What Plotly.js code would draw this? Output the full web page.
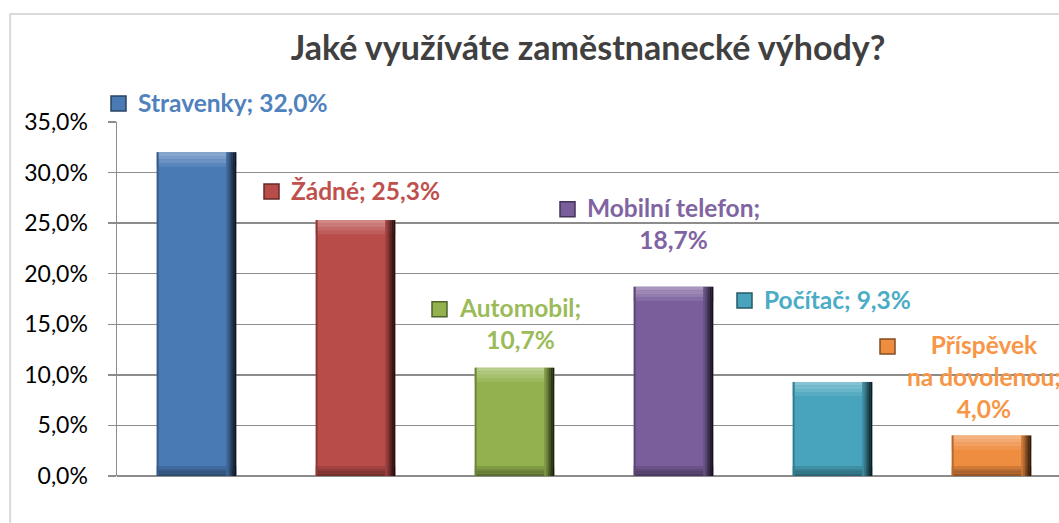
<!DOCTYPE html>
<html>
<head>
<meta charset="utf-8">
<script src="https://cdn.plot.ly/plotly-3.0.1.min.js"></script>
<style>
html,body{margin:0;padding:0;overflow:hidden;background:#fff;}
#chart{width:1075px;height:523px;}
</style>
</head>
<body>
<div id="chart"></div>
<script>
const categories = ['Stravenky', 'Žádné', 'Automobil', 'Mobilní telefon', 'Počítač', 'Příspěvek na dovolenou'];
const values = [32.0, 25.3, 10.7, 18.7, 9.3, 4.0];
const labelTexts = ['Stravenky; 32,0%', 'Žádné; 25,3%', 'Automobil;<br>10,7%', 'Mobilní telefon;<br>18,7%', 'Počítač; 9,3%', 'Příspěvek<br>na dovolenou;<br>4,0%'];
const yTicks = [0, 5, 10, 15, 20, 25, 30, 35];
const yTickText = yTicks.map(v => v.toFixed(1).replace('.', ',') + '%');

// styles
const barColors   = ['#4a7ab4', '#b84c49', '#93b24f', '#7a5e9b', '#47a4bc', '#ee8c40'];
const textColors  = ['#4f81bd', '#c0504d', '#9bbb59', '#8064a2', '#4bacc6', '#f79646'];

const labelXShift = [36.5, 10, 5, 0, 4.5, -7.5];
const labelYShift = [50, 30, 44, 63, 82, 59.5];

const font = 'Lato, "Open Sans", sans-serif';
const BW = 0.5;          // bar width in category units

function mix(hex, target, t) {
  const h = hex.replace('#', '');
  const c = [0, 2, 4].map(k => parseInt(h.substr(k, 2), 16));
  const m = c.map(v => Math.round(v + (target - v) * t));
  return 'rgb(' + m.join(',') + ')';
}
const sideColors = barColors.map(c => mix(c, 0, 0.45));

const fill = (v) => categories.map(() => v);
const traces = [
  {type: 'bar', x: categories, y: values, width: fill(BW),
   marker: {color: barColors, line: {width: 0}}, hoverinfo: 'x+y'}
];
// top bevel: light gradient
[[0.34, 0.35], [0.26, 0.35], [0.18, 0.35], [0.09, 0.35]].forEach((s, k) => {
  traces.push({type: 'bar', x: categories, y: fill(s[1]),
    base: values.map(v => v - (k + 1) * s[1]), width: fill(BW),
    marker: {color: barColors.map(c => mix(c, 255, s[0])), line: {width: 0}}, hoverinfo: 'skip'});
});
// bottom bevel: dark gradient
[[0.38, 0.25], [0.3, 0.25], [0.22, 0.25], [0.13, 0.25]].forEach((s, k) => {
  traces.push({type: 'bar', x: categories, y: fill(s[1]),
    base: fill(k * s[1]), width: fill(BW),
    marker: {color: barColors.map(c => mix(c, 0, s[0])), line: {width: 0}}, hoverinfo: 'skip'});
});
// right side: gradient to near black
const stripW = 0.0126;
[0.15, 0.3, 0.5, 0.68, 0.82].forEach((t, k) => {
  traces.push({type: 'bar', x: categories, y: values, width: fill(stripW),
    offset: fill(BW / 2 - (5 - k) * stripW),
    marker: {color: barColors.map(c => mix(c, 0, t)), line: {width: 0}}, hoverinfo: 'skip'});
});
// left edge
traces.push({type: 'bar', x: categories, y: values, width: fill(0.012), offset: fill(-BW / 2),
  marker: {color: barColors.map(c => mix(c, 0, 0.25)), line: {width: 0}}, hoverinfo: 'skip'});

const annotations = categories.map((c, i) => ({
  x: c, y: values[i], xref: 'x', yref: 'y',
  text: labelTexts[i],
  showarrow: false, xanchor: 'center', yanchor: 'middle',
  align: 'center',
  xshift: labelXShift[i], yshift: labelYShift[i],
  font: {family: font, size: 24.5, color: textColors[i], weight: 'bold'}
}));

const borderShape = {
  type: 'rect', xref: 'paper', yref: 'paper',
  x0: -0.112, x1: 1.2, y0: -0.5, y1: 1.305,
  line: {color: '#d9d9d9', width: 2}, fillcolor: 'rgba(0,0,0,0)', layer: 'below'
};

const layout = {
  width: 1075, height: 523,
  margin: {l: 117, r: 4, t: 122, b: 47},
  paper_bgcolor: '#ffffff', plot_bgcolor: '#ffffff',
  title: {
    text: '<b>Jaké využíváte zaměstnanecké výhody?</b>',
    font: {family: font, size: 34, color: '#404040'},
    x: 0.547, xref: 'container', xanchor: 'center',
    y: 0.908, yref: 'container', yanchor: 'middle'
  },
  barmode: 'overlay',
  showlegend: false,
  xaxis: {
    showticklabels: false, showgrid: false, zeroline: false,
    showline: false, ticks: '', range: [-0.5, categories.length - 0.5]
  },
  yaxis: {
    range: [0, 35], tickmode: 'array', tickvals: yTicks, ticktext: yTickText,
    showgrid: true, gridcolor: '#8c8c8c', gridwidth: 1.5,
    zeroline: true, zerolinecolor: '#8c8c8c', zerolinewidth: 1.5,
    showline: true, linecolor: '#8c8c8c', linewidth: 1.5,
    ticks: 'outside', ticklen: 8, tickcolor: '#8c8c8c', tickwidth: 1.5,
    ticklabelstandoff: 15,
    tickfont: {family: font, size: 23, color: '#000000'},
    fixedrange: true
  },
  shapes: [borderShape],
  annotations: annotations
};

Plotly.newPlot('chart', traces, layout, {displayModeBar: false, staticPlot: true}).then(gd => {
  const sz = gd._fullLayout._size;
  const divRect = gd.getBoundingClientRect();
  const keySize = 15, gap = 12;
  const keys = [];
  gd.querySelectorAll('.annotation').forEach(g => {
    const i = +g.getAttribute('data-index');
    const t = g.querySelector('text.annotation-text');
    if (!t || isNaN(i)) return;
    const r = t.getBoundingClientRect();
    const lines = (labelTexts[i].match(/<br>/g) || []).length + 1;
    const cx = r.left - divRect.left - gap - keySize / 2;
    const cy = r.top - divRect.top + (r.height / lines) / 2 + 1;
    const px = (p) => (p - sz.l) / sz.w;
    const py = (p) => 1 - (p - sz.t) / sz.h;
    keys.push({
      type: 'rect', xref: 'paper', yref: 'paper',
      x0: px(cx - keySize / 2), x1: px(cx + keySize / 2),
      y0: py(cy + keySize / 2), y1: py(cy - keySize / 2),
      fillcolor: barColors[i], line: {color: sideColors[i], width: 1.5}
    });
  });
  Plotly.relayout(gd, {shapes: [borderShape].concat(keys)});
});
</script>
</body>
</html>
